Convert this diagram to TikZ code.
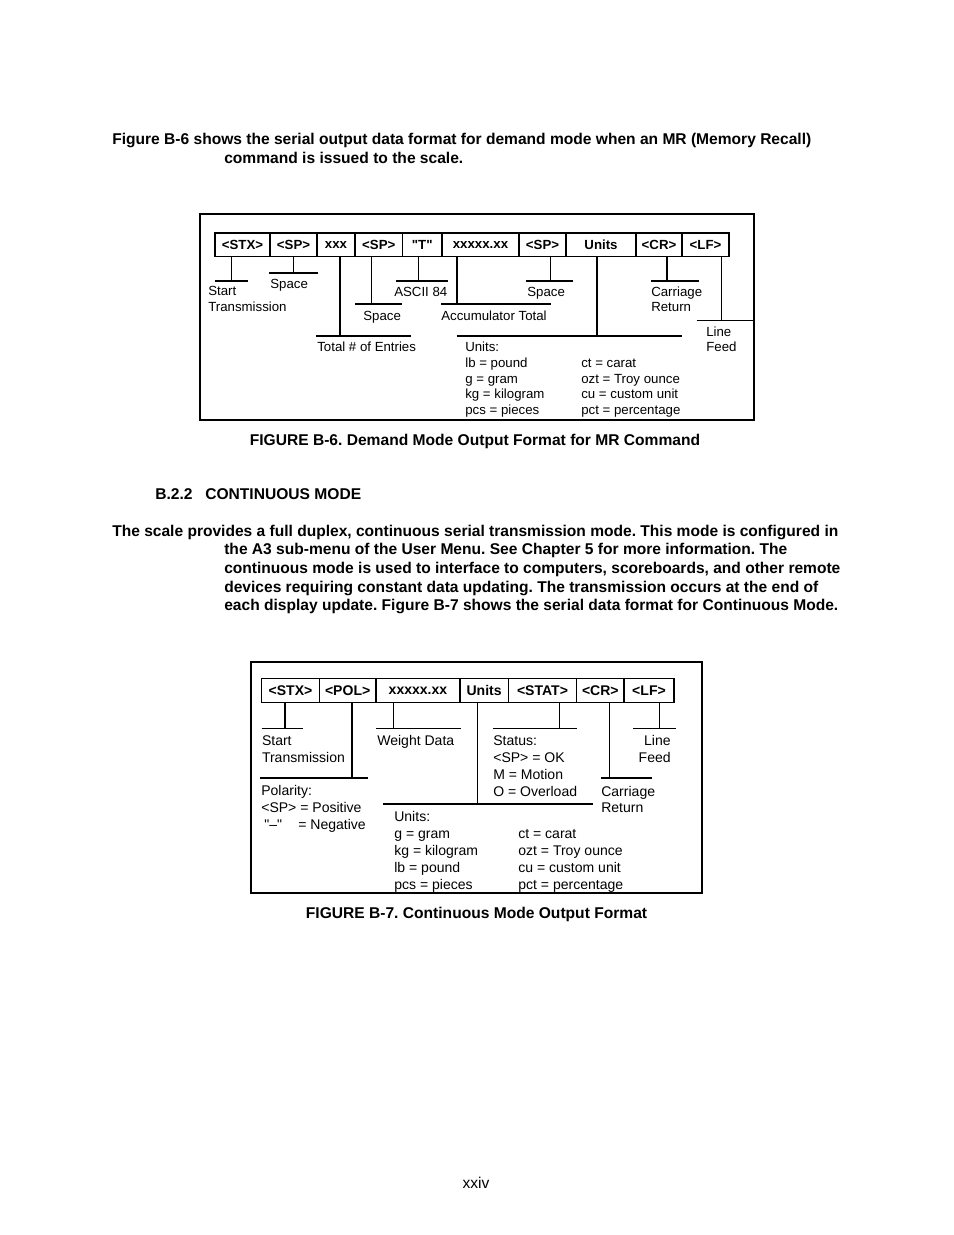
\documentclass[tikz,border=0pt]{standalone}
\usepackage{fontspec}
\setmainfont{Liberation Sans}
\usepackage{graphicx}
\frenchspacing
\newdimen\pxu \pxu=0.6415pt
\newcommand\fitline[2]{\resizebox{#1\pxu}{\height}{#2}}
\newcommand\dq{\XeTeXglyph\XeTeXcharglyph"22\relax}
\newcommand\mkbar[5]{\coordinate (#1L) at (#2,#4); \coordinate (#1R) at (#3,#4); \draw[#5] (#1L) -- (#1R);}
\newcommand\mkstem[5]{\coordinate (#2) at (#3,#4); \draw[#5] (#1.south -| #2) -- (#2);}
\begin{document}
\frenchspacing
\begin{tikzpicture}[x=0.6415pt,y=-0.6415pt,
  lnthin/.style={line width=0.75pt},
  lnbold/.style={line width=1.5pt},
  frame/.style={line width=0.9pt},
  cellsix/.style={draw, line width=0.8pt, inner sep=0pt, minimum height=15.08pt, font=\fontsize{8.5}{10}\selectfont\bfseries},
  cellsev/.style={draw, line width=0.8pt, inner sep=0pt, minimum height=15.65pt, font=\fontsize{9}{10}\selectfont\bfseries},
  lsix/.style={font=\fontsize{8.5}{10}\selectfont, anchor=base west, inner sep=0pt},
  lsev/.style={font=\fontsize{9}{10}\selectfont, anchor=base west, inner sep=0pt},
  body/.style={font=\fontsize{10}{12}\selectfont\bfseries\frenchspacing, anchor=base west, inner sep=0pt},
  capt/.style={font=\fontsize{10}{12}\selectfont\bfseries\frenchspacing, anchor=base, inner sep=0pt}]
\useasboundingbox (0,0) rectangle (954,1235);
\fill[white] (0,0) rectangle (954,1235);

% ---------- body text ----------
\node[body] (l1) at (112,144.5) {\fitline{699}{Figure B-6 shows the serial output data format for demand mode when an MR (Memory Recall)}};
\node[body] (l2) at (224,163.5) {\fitline{239}{command is issued to the scale.}};
\node[body] (h1) at (155,499.5) {B.2.2};
\node[body] (h2) at (205,499.5) {CONTINUOUS MODE};
\node[body] (p1) at (112,536.5) {\fitline{726}{The scale provides a full duplex, continuous serial transmission mode. This mode is configured in}};
\node[body] (p2) at (224,554.5) {\fitline{563}{the A3 sub-menu of the User Menu. See Chapter 5 for more information. The}};
\node[body] (p3) at (224,573.5) {\fitline{616}{continuous mode is used to interface to computers, scoreboards, and other remote}};
\node[body] (p4) at (224,592.5) {\fitline{594}{devices requiring constant data updating. The transmission occurs at the end of}};
\node[body] (p5) at (224,610.5) {\fitline{614}{each display update. Figure B-7 shows the serial data format for Continuous Mode.}};
\node[font=\fontsize{10}{12}\selectfont, anchor=base, inner sep=0pt] (pg) at (476,1188) {xxiv};

% ---------- Figure B-6 ----------
\draw[frame] (200,214) rectangle (754,420);
\node[cellsix, minimum width={(270-215)*\pxu}]   (s6stx) at ({(215+270)/2},244.75) {<STX>};
\node[cellsix, minimum width={(317-270)*\pxu}]   (s6spa) at ({(270+317)/2},244.75) {<SP>};
\node[cellsix, minimum width={(355-317)*\pxu}]   (s6xxx) at ({(317+355)/2},244.75) {xxx};
\node[cellsix, minimum width={(402.5-355)*\pxu}] (s6spb) at ({(355+402.5)/2},244.75) {<SP>};
\node[cellsix, minimum width={(442-402.5)*\pxu}] (s6t)   at ({(402.5+442)/2},244.75) {\dq T\dq};
\node[cellsix, minimum width={(519-442)*\pxu}]   (s6acc) at ({(442+519)/2},244.75) {xxxxx.xx};
\node[cellsix, minimum width={(566-519)*\pxu}]   (s6spc) at ({(519+566)/2},244.75) {<SP>};
\node[cellsix, minimum width={(636-566)*\pxu}]   (s6un)  at ({(566+636)/2},244.75) {Units};
\node[cellsix, minimum width={(682-636)*\pxu}]   (s6cr)  at ({(636+682)/2},244.75) {<CR>};
\node[cellsix, minimum width={(729-682)*\pxu}]   (s6lf)  at ({(682+729)/2},244.75) {<LF>};

\mkstem{s6stx}{e6a}{231.7}{281}{lnthin}   \mkbar{b6a}{215}{248}{281}{lnbold}
\mkstem{s6spa}{e6b}{293.3}{273}{lnthin}   \mkbar{b6b}{269}{317.7}{273}{lnbold}
\mkstem{s6xxx}{e6c}{340}{335.7}{lnthin}   \mkbar{b6c}{315.7}{410.7}{335.7}{lnbold}
\mkstem{s6spb}{e6d}{371.7}{304}{lnthin}   \mkbar{b6d}{355}{402.3}{304}{lnthin}
\mkstem{s6t}{e6e}{418.7}{281}{lnthin}     \mkbar{b6e}{395.7}{448.3}{281}{lnthin}
\mkstem{s6acc}{e6f}{457}{304}{lnbold}     \mkbar{b6f}{441}{551}{304}{lnthin}
\mkstem{s6spc}{e6g}{550.7}{281}{lnthin}   \mkbar{b6g}{526}{573.3}{281}{lnbold}
\mkstem{s6un}{e6h}{596.7}{335.7}{lnbold}  \mkbar{b6h}{456.7}{682.3}{335.7}{lnbold}
\mkstem{s6cr}{e6i}{666.7}{281}{lnbold}    \mkbar{b6i}{651}{699}{281}{lnbold}
\mkstem{s6lf}{e6j}{721.7}{320.7}{lnthin}  \mkbar{b6j}{696.7}{752.7}{320.7}{lnthin}

\node[lsix] (t6st1) at (208,295.7) {Start};
\node[lsix] (t6st2) at (208,311.7) {Transmission};
\node[lsix] (t6spa) at (270,288.7) {Space};
\node[lsix] (t6asc) at (394,296.7) {ASCII 84};
\node[lsix] (t6spb) at (363,320.7) {Space};
\node[lsix] (t6acc) at (441,320.7) {Accumulator Total};
\node[lsix] (t6spc) at (527,296.7) {Space};
\node[lsix] (t6cr1) at (651,296.7) {Carriage};
\node[lsix] (t6cr2) at (651,311.7) {Return};
\node[lsix] (t6lf1) at (706,336.7) {Line};
\node[lsix] (t6lf2) at (706,351.7) {Feed};
\node[lsix] (t6tot) at (317,351.7) {Total \# of Entries};
\node[lsix] (t6u0) at (465,351.7) {Units:};
\node[lsix] (t6u1) at (465,367.7) {lb = pound};
\node[lsix] (t6u2) at (465,383.7) {g = gram};
\node[lsix] (t6u3) at (465,398.7) {kg = kilogram};
\node[lsix] (t6u4) at (465,414.7) {pcs = pieces};
\node[lsix] (t6u5) at (581,367.7) {ct = carat};
\node[lsix] (t6u6) at (581,383.7) {ozt = Troy ounce};
\node[lsix] (t6u7) at (581,398.7) {cu = custom unit};
\node[lsix] (t6u8) at (581,414.7) {pct = percentage};
\node[capt] (cap6) at (475,445.5) {FIGURE B-6. Demand Mode Output Format for MR Command};

% ---------- Figure B-7 ----------
\draw[frame] (251,662) rectangle (702,893);
\node[cellsev, minimum width={(319.3-261.7)*\pxu}] (s7stx) at ({(261.7+319.3)/2},690.5) {<STX>};
\node[cellsev, minimum width={(376-319.3)*\pxu}]   (s7pol) at ({(319.3+376)/2},690.5) {<POL>};
\node[cellsev, minimum width={(460-376)*\pxu}]     (s7wt)  at ({(376+460)/2},690.5) {xxxxx.xx};
\node[cellsev, minimum width={(508.3-460)*\pxu}]   (s7un)  at ({(460+508.3)/2},690.5) {Units};
\node[cellsev, minimum width={(576.7-508.3)*\pxu}] (s7st)  at ({(508.3+576.7)/2},690.5) {<STAT>};
\node[cellsev, minimum width={(624-576.7)*\pxu}]   (s7cr)  at ({(576.7+624)/2},690.5) {<CR>};
\node[cellsev, minimum width={(674-624)*\pxu}]     (s7lf)  at ({(624+674)/2},690.5) {<LF>};

\mkstem{s7stx}{e7a}{285}{728.3}{lnthin}   \mkbar{b7a}{261.7}{302.7}{728.3}{lnthin}
\mkstem{s7pol}{e7b}{351.7}{778.3}{lnbold} \mkbar{b7b}{260}{368.3}{778.3}{lnbold}
\mkstem{s7wt}{e7c}{393.3}{728.3}{lnthin}  \mkbar{b7c}{376}{460.7}{728.3}{lnthin}
\mkstem{s7un}{e7d}{477.7}{804}{lnthin}    \mkbar{b7d}{383}{593.3}{804}{lnthin}
\mkstem{s7st}{e7e}{559.3}{728.3}{lnthin}  \mkbar{b7e}{493.3}{576.7}{728.3}{lnthin}
\mkstem{s7cr}{e7f}{609.3}{778.3}{lnthin}  \mkbar{b7f}{601}{651.7}{778.3}{lnbold}
\mkstem{s7lf}{e7g}{659.3}{728.3}{lnthin}  \mkbar{b7g}{633.3}{675.7}{728.3}{lnthin}

\node[lsev] (t7st1) at (261.7,745) {Start};
\node[lsev] (t7st2) at (261.7,762) {Transmission};
\node[lsev] (t7wt) at (377,745) {Weight Data};
\node[lsev] (t7po0) at (261,795) {Polarity:};
\node[lsev] (t7po1) at (261,812) {<SP> = Positive};
\node[lsev] (t7po2) at (264,829) {\dq–\dq};
\node[lsev] (t7po3) at (298,829) {= Negative};
\node[lsev] (t7s0) at (493,745) {Status:};
\node[lsev] (t7s1) at (493,762) {<SP> = OK};
\node[lsev] (t7s2) at (493,779) {M = Motion};
\node[lsev] (t7s3) at (493,796) {O = Overload};
\node[lsev, anchor=base east] (t7lf1) at (671,745) {Line};
\node[lsev, anchor=base east] (t7lf2) at (671,762) {Feed};
\node[lsev] (t7cr1) at (601,796) {Carriage};
\node[lsev] (t7cr2) at (601,812) {Return};
\node[lsev] (t7u0) at (394,821) {Units:};
\node[lsev] (t7u1) at (394,838) {g = gram};
\node[lsev] (t7u2) at (394,855) {kg = kilogram};
\node[lsev] (t7u3) at (394,872) {lb = pound};
\node[lsev] (t7u4) at (394,889) {pcs = pieces};
\node[lsev] (t7u5) at (518,838) {ct = carat};
\node[lsev] (t7u6) at (518,855) {ozt = Troy ounce};
\node[lsev] (t7u7) at (518,872) {cu = custom unit};
\node[lsev] (t7u8) at (518,889) {pct = percentage};
\node[capt] (cap7) at (476.5,918.5) {FIGURE B-7. Continuous Mode Output Format};
\end{tikzpicture}
\end{document}
